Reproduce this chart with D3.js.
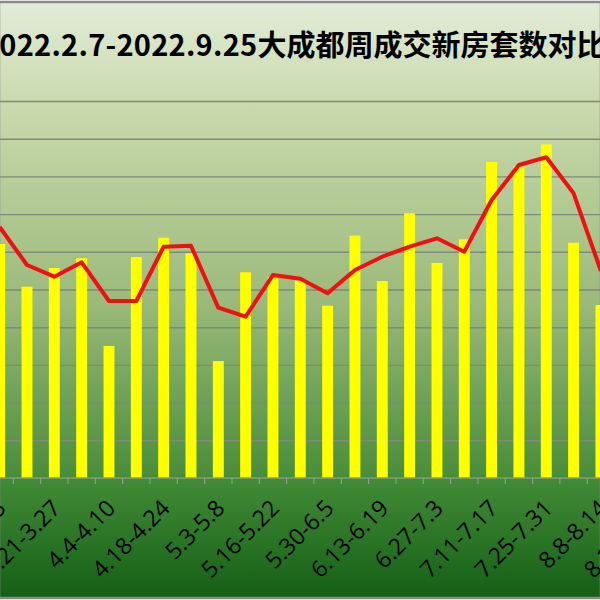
<!DOCTYPE html>
<html>
<head>
<meta charset="utf-8">
<script src="https://cdn.jsdelivr.net/npm/d3@7"></script>
<style>
  html, body { margin: 0; padding: 0; background: #fff; overflow: hidden; }
  svg { display: block; }
</style>
</head>
<body>
<svg></svg>
<script>
const width = 600
const height = 600
const margin = { top: 101, bottom: 122, left: -14 }
const step = 27.33

const titleDates = '2022.2.7-2022.9.25'
const titleText = '大成都周成交新房套数对比'

// weeks in view (the last two only show their labels at the right edge)
const weeks = [
  '3.7-3.13', '3.14-3.20', '3.21-3.27', '3.28-4.3', '4.4-4.10', '4.11-4.17',
  '4.18-4.24', '4.25-5.2', '5.3-5.8', '5.9-5.15', '5.16-5.22', '5.23-5.29',
  '5.30-6.5', '6.6-6.12', '6.13-6.19', '6.20-6.26', '6.27-7.3', '7.4-7.10',
  '7.11-7.17', '7.18-7.24', '7.25-7.31', '8.1-8.7', '8.8-8.14',
  '8.15-8.21', '8.22-8.28'
]
// bars (yellow)
const barValues = [
  6207, 5074, 5570, 5828, 3501, 5862,
  6374, 5960, 3103, 5456, 5332, 5239,
  4570, 6427, 5225, 7021, 5703, 6332,
  8382, 8257, 8851, 6241, 4589
]
// line (red)
const lineValues = [
  6658, 5650, 5340, 5721, 4695, 4695,
  6135, 6162, 4517, 4279, 5385, 5284,
  4899, 5517, 5870, 6135, 6358, 6003,
  7374, 8302, 8507, 7552, 5491
]
const yTicks = [0, 1000, 2000, 3000, 4000, 5000, 6000, 7000, 8000, 9000, 10000]

const svg = d3.select('svg')
  .attr('width', width)
  .attr('height', height)

/** Background gradient */
const defs = svg.append('defs')
const grad = defs.append('linearGradient')
  .attr('id', 'bg')
  .attr('x1', 0).attr('y1', 0).attr('x2', 0).attr('y2', 1)
grad.selectAll('stop')
  .data([
    [0, '#e2ecd7'], [0.17, '#cadaae'], [0.5, '#9cba7b'],
    [0.79, '#4c8e3c'], [0.8, '#428b37'], [1, '#145f15']
  ])
  .enter()
  .append('stop')
  .attr('offset', d => d[0])
  .attr('stop-color', d => d[1])

svg.append('rect')
  .attr('x', -1).attr('y', 2)
  .attr('width', width + 2).attr('height', height - 4)
  .attr('fill', 'url(#bg)')
  .attr('stroke', '#8a8a8a')
  .attr('stroke-width', 2.5)

/** Scales */
const xScale = d3
  .scaleBand()
  .domain(weeks)
  .range([margin.left, margin.left + weeks.length * step])
  .paddingInner(0.6)
  .paddingOuter(0.3)

const yScale = d3
  .scaleLinear()
  .domain([0, 10000])
  .range([height - margin.bottom, margin.top])

const cx = d => xScale(d) + xScale.bandwidth() / 2

/** Gridlines */
const yGrid = d3.axisLeft(yScale)
  .tickValues(yTicks.slice(1))
  .tickSize(-width - 20)
  .tickFormat('')
const grid = svg.append('g')
  .attr('transform', 'translate(-10,0)')
  .call(yGrid)
grid.select('.domain').remove()
grid.selectAll('line')
  .attr('stroke', '#7f8a7a')
  .attr('stroke-width', 1.4)

/** Bars */
svg.append('g')
  .selectAll('rect')
  .data(barValues)
  .enter()
  .append('rect')
  .attr('x', (d, i) => xScale(weeks[i]))
  .attr('width', xScale.bandwidth())
  .attr('y', d => yScale(d))
  .attr('height', d => yScale(0) - yScale(d))
  .attr('fill', '#ffff00')

/** X axis */
const xAxis = d3.axisBottom(xScale).tickSize(0).tickFormat('')
const xg = svg.append('g')
  .attr('transform', `translate(0, ${yScale(0)})`)
  .call(xAxis)
xg.select('.domain')
  .attr('d', `M-10,0H${width + 10}`)
  .attr('stroke', '#8c968a')
  .attr('stroke-width', 1.5)
// category separators
xg.selectAll('line.sep')
  .data(weeks)
  .enter()
  .append('line')
  .attr('class', 'sep')
  .attr('x1', d => cx(d) - step / 2)
  .attr('x2', d => cx(d) - step / 2)
  .attr('y1', 0).attr('y2', 6)
  .attr('stroke', '#9aa39a')
  .attr('stroke-width', 1)

/** Tick labels, every other week */
svg.append('g')
  .selectAll('text')
  .data(weeks.filter((d, i) => i % 2 === 0))
  .enter()
  .append('text')
  .attr('transform', d => `translate(${cx(d) + 2}, ${yScale(0) + 26}) rotate(-45)`)
  .attr('text-anchor', 'end')
  .attr('dy', '0.35em')
  .attr('font-family', '"Open Sans", "Noto Sans", sans-serif')
  .attr('font-size', 23)
  .attr('fill', '#000')
  .text(d => d)

/** Line */
const line = d3.line()
  .x((d, i) => cx(weeks[i]))
  .y(d => yScale(d))
svg.append('path')
  .datum(lineValues)
  .attr('d', line)
  .attr('fill', 'none')
  .attr('stroke', '#ee1111')
  .attr('stroke-width', 4)
  .attr('stroke-linejoin', 'round')

/** Title */
const title = svg.append('text')
  .attr('x', -18)
  .attr('y', 56)
  .attr('font-family', '"Noto Sans CJK SC", "Noto Sans", sans-serif')
  .attr('font-weight', 'bold')
  .attr('font-size', 29)
  .attr('fill', '#000')
title.append('tspan')
  .attr('letter-spacing', 0.25)
  .text(titleDates)
title.append('tspan')
  .text(titleText)
</script>
</body>
</html>
